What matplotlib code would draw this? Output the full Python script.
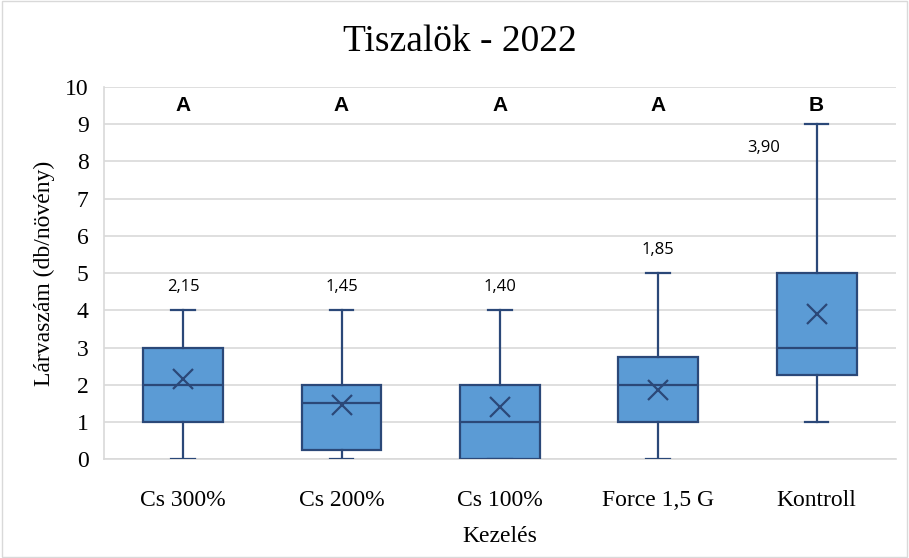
import matplotlib
matplotlib.use("Agg")
import matplotlib.pyplot as plt
from matplotlib.patches import Rectangle

categories = ["Cs 300%", "Cs 200%", "Cs 100%", "Force 1,5 G", "Kontroll"]
whislo = [0, 0, 0, 0, 1]
q1 = [1, 0.25, 0, 1, 2.25]
med = [2, 1.5, 1, 2, 3]
q3 = [3, 2, 2, 2.75, 5]
whishi = [4, 4, 4, 5, 9]
means = [2.15, 1.45, 1.40, 1.85, 3.90]
mean_labels = ["2,15", "1,45", "1,40", "1,85", "3,90"]
letters = ["A", "A", "A", "A", "B"]

fig = plt.figure(figsize=(9.09, 5.58), dpi=100)
ax = fig.add_axes([0.1144, 0.177, 0.871, 0.667])
fig.patches.append(Rectangle((0.002, 0.002), 0.996, 0.996, transform=fig.transFigure,
                             fill=False, edgecolor="#D9D9D9", linewidth=1))

edge = "#2B4878"
fill = "#5B9BD5"
stats = []
for i in range(len(categories)):
    stats.append(dict(label=categories[i], whislo=whislo[i], q1=q1[i], med=med[i],
                      q3=q3[i], whishi=whishi[i], mean=means[i], fliers=[]))
positions = list(range(len(categories)))
ax.bxp(stats, positions=positions, widths=0.505, capwidths=0.15, patch_artist=True,
       showmeans=True, showfliers=False,
       boxprops=dict(facecolor=fill, edgecolor=edge, linewidth=1.6),
       medianprops=dict(color=edge, linewidth=1.6),
       whiskerprops=dict(color=edge, linewidth=1.6),
       capprops=dict(color=edge, linewidth=1.6),
       meanprops=dict(marker="x", markeredgecolor=edge, markersize=14, markeredgewidth=1.6),
       zorder=3)

for i in positions:
    if i == len(categories) - 1:
        ax.text(i - 0.335, 8.35, mean_labels[i], ha="center", va="center",
                fontsize=12, family="Open Sans")
    else:
        ax.text(i, whishi[i] + 0.63, mean_labels[i], ha="center", va="center",
                fontsize=12, family="Open Sans")
    ax.text(i, 9.5, letters[i], ha="center", va="center", fontsize=15,
            fontweight="bold", family="Liberation Sans")

ax.set_xlim(-0.5, len(categories) - 0.5)
ax.set_ylim(0, 10)
ax.set_yticks(range(0, 11))
ax.grid(axis="y", color="#D9D9D9", linewidth=1.2, zorder=0)
ax.set_axisbelow(True)
for s in ["top", "right"]:
    ax.spines[s].set_visible(False)
for s in ["bottom", "left"]:
    ax.spines[s].set_color("#D9D9D9")
    ax.spines[s].set_linewidth(1.2)
ax.tick_params(axis="x", length=0, labelsize=17, pad=22)
ax.tick_params(axis="y", length=0, labelsize=17, pad=11)
ax.set_xticks(positions)
ax.set_xticklabels(categories)
for lbl in ax.get_xticklabels() + ax.get_yticklabels():
    lbl.set_family("Liberation Serif")
ax.set_xlabel("Kezelés", family="Liberation Serif", fontsize=17, labelpad=11)
ax.set_ylabel("Lárvaszám (db/növény)", family="Liberation Serif", fontsize=17, labelpad=7)
fig.text(0.506, 0.925, "Tiszalök - 2022", ha="center", va="center",
         family="Liberation Serif", fontsize=27)

fig.savefig("out.png", dpi=100)
